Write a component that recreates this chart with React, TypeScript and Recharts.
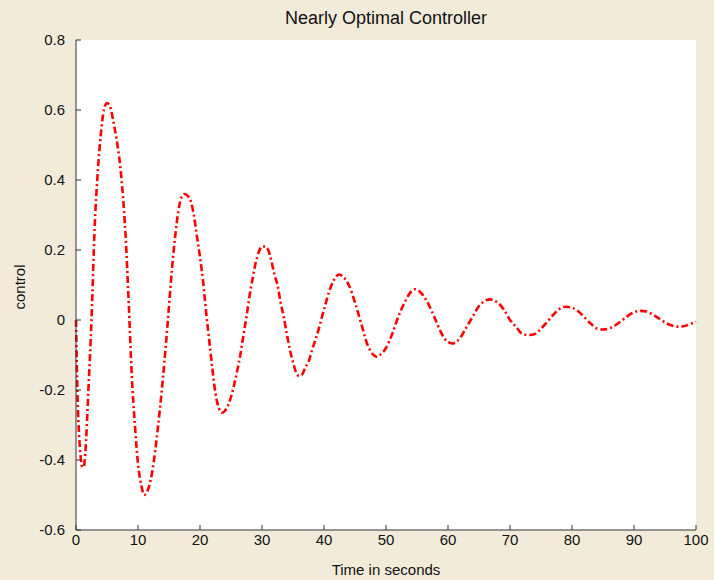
import React from "react";
import { LineChart, Line, XAxis, YAxis, CartesianGrid } from "recharts";

// time (s) and control signal
const time = [
  0, 0.25, 0.5, 0.75, 1, 1.25, 1.5, 2, 2.5, 3, 3.5, 4, 4.5, 5, 5.5, 6, 6.5, 7, 7.5, 8,
  8.5, 9, 9.5, 10, 10.5, 11, 11.5, 12, 12.5, 13, 13.5, 14, 14.5, 15, 15.5, 16, 16.5, 17,
  17.5, 18, 18.5, 19, 19.5, 20, 20.5, 21, 21.5, 22, 22.5, 23, 23.5, 24, 24.5, 25, 25.5,
  26, 26.5, 27, 27.5, 28, 28.5, 29, 29.5, 30, 30.5, 31, 31.5, 32, 32.5, 33, 33.5, 34,
  34.5, 35, 35.5, 36, 36.5, 37, 37.5, 38, 39, 40, 41, 42, 42.5, 43, 44, 45, 46, 47, 48,
  48.5, 49, 50, 51, 52, 53, 54, 54.7, 55.5, 56, 57, 58, 59, 60, 60.7, 61.5, 62, 63, 64,
  65, 66, 66.8, 67.5, 68, 69, 70, 71, 72, 73, 74, 75, 76, 77, 78, 79, 80, 81, 82, 83, 84,
  85, 86, 87, 88, 89, 90, 91, 92, 93, 94, 95, 96, 97, 98, 99, 100,
];
const control = [
  0, -0.22, -0.33, -0.39, -0.42, -0.42, -0.38, -0.2, 0.0, 0.26, 0.42, 0.53, 0.6, 0.62,
  0.61, 0.57, 0.52, 0.46, 0.37, 0.24, 0.05, -0.16, -0.3, -0.41, -0.47, -0.5, -0.49,
  -0.46, -0.41, -0.34, -0.26, -0.17, -0.07, 0.04, 0.15, 0.24, 0.31, 0.35, 0.36, 0.355,
  0.34, 0.3, 0.24, 0.18, 0.11, 0.02, -0.06, -0.14, -0.21, -0.25, -0.265, -0.26, -0.245,
  -0.22, -0.185, -0.145, -0.1, -0.045, 0.01, 0.07, 0.12, 0.165, 0.195, 0.21, 0.21, 0.2,
  0.17, 0.13, 0.1, 0.05, 0.01, -0.04, -0.085, -0.12, -0.15, -0.16, -0.155, -0.135, -0.12,
  -0.09, -0.035, 0.03, 0.09, 0.125, 0.13, 0.125, 0.1, 0.05, -0.01, -0.07, -0.1, -0.105,
  -0.1, -0.08, -0.04, 0.01, 0.05, 0.08, 0.088, 0.08, 0.07, 0.04, 0.0, -0.04, -0.063,
  -0.067, -0.06, -0.05, -0.02, 0.01, 0.04, 0.055, 0.059, 0.055, 0.05, 0.03, 0.0, -0.02,
  -0.04, -0.043, -0.04, -0.025, -0.005, 0.015, 0.032, 0.038, 0.035, 0.025, 0.008, -0.01,
  -0.024, -0.027, -0.024, -0.015, -0.002, 0.012, 0.022, 0.026, 0.024, 0.016, 0.005,
  -0.007, -0.015, -0.019, -0.018, -0.012, -0.005,
];
const xTicks = [0, 10, 20, 30, 40, 50, 60, 70, 80, 90, 100];
const yTicks = [-0.6, -0.4, -0.2, 0, 0.2, 0.4, 0.6, 0.8];

const data = time.map((t, i) => ({ t, u: control[i] }));

const font = "'Liberation Sans', Arial, Helvetica, sans-serif";
const fmtY = (v: number) => (v === 0 ? "0" : String(Math.round(v * 10) / 10));

export default function App() {
  return (
    <div
      style={{
        position: "absolute",
        left: 0,
        top: 0,
        width: 714,
        height: 580,
        background: "#f3ebda",
        overflow: "hidden",
        fontFamily: font,
      }}
    >
      <div
        style={{
          position: "absolute",
          top: 8,
          left: 76,
          width: 620,
          textAlign: "center",
          fontSize: 18,
          color: "#111",
        }}
      >
        Nearly Optimal Controller
      </div>
      <LineChart
        width={714}
        height={580}
        data={data}
        margin={{ top: 40, right: 18, bottom: 20, left: 0 }}
      >
        <CartesianGrid horizontal={false} vertical={false} fill="#ffffff" fillOpacity={1} stroke="none" />
        <XAxis
          dataKey="t"
          type="number"
          domain={[0, 100]}
          ticks={xTicks}
          interval={0}
          height={30}
          tickSize={-5}
          tickMargin={9}
          stroke="#333"
          tick={{ fill: "#111", fontSize: 15, fontFamily: font }}
        />
        <YAxis
          type="number"
          domain={[-0.6, 0.8]}
          ticks={yTicks}
          interval={0}
          width={76}
          tickSize={-5}
          tickMargin={16}
          tickFormatter={fmtY}
          stroke="#333"
          tick={{ fill: "#111", fontSize: 15, fontFamily: font }}
        />
        <Line
          type="monotone"
          dataKey="u"
          stroke="#ff0000"
          strokeWidth={2.6}
          strokeDasharray="7 3 2 3"
          dot={false}
          isAnimationActive={false}
        />
      </LineChart>
      <div
        style={{
          position: "absolute",
          top: 561,
          left: 76,
          width: 620,
          textAlign: "center",
          fontSize: 15,
          color: "#111",
        }}
      >
        Time in seconds
      </div>
      <div
        style={{
          position: "absolute",
          left: 19,
          top: 287,
          transform: "translate(-50%, -50%) rotate(-90deg)",
          fontSize: 15,
          color: "#111",
          whiteSpace: "nowrap",
        }}
      >
        control
      </div>
    </div>
  );
}
